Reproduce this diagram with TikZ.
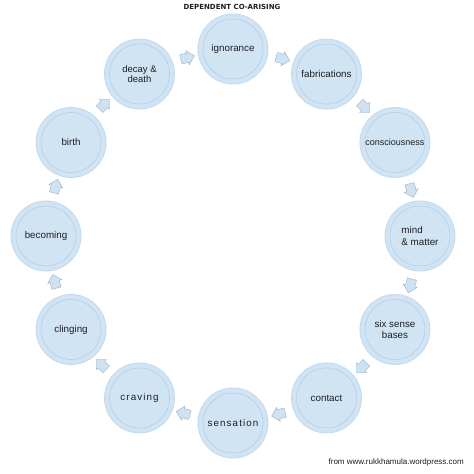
\documentclass[tikz,border=0pt]{standalone}
\usepackage{fontspec}
\setmainfont{Liberation Sans}
\newfontfamily\titlefont{DejaVu Sans}
\usetikzlibrary{shapes.arrows,calc}
\definecolor{cfill}{RGB}{209,228,244}
\definecolor{cborder}{RGB}{194,217,237}
\definecolor{cinner}{RGB}{180,206,230}
\definecolor{afill}{RGB}{207,226,242}
\definecolor{aborder}{RGB}{155,178,202}
\definecolor{ctext}{RGB}{30,30,35}
\tikzset{
  stage/.style={circle, minimum size=70pt, inner sep=0pt, fill=cfill, draw=cborder, line width=0.8pt,
    text=ctext, font=\fontsize{9.8}{11.5}\selectfont, align=center,
    path picture={\draw[cinner, line width=0.6pt] (path picture bounding box.center) circle (30pt);}},
  flow/.style={single arrow, minimum height=13pt, inner sep=4.5pt, single arrow head extend=2.5pt,
    fill=afill, draw=aborder, line width=0.4pt},
  spaced/.style={font=\fontsize{9.8}{11.5}\selectfont\addfontfeature{LetterSpace=11}}
}
\begin{document}
\begin{tikzpicture}[x=1pt,y=1pt]
\useasboundingbox[fill=white] (0,0) rectangle (474,474);
\coordinate (c) at (233,238);
\node[stage] (n1) at ($(c)+(90:187)$) {ignorance};
\node[stage] (n2) at ($(c)+(60:187)$) {fabrications};
\node[stage, font=\fontsize{9}{11}\selectfont] (n3) at ($(c)+(30:187)$) {consciousness};
\node[stage, align=left] (n4) at ($(c)+(0:187)$) {mind\\\& matter};
\node[stage] (n5) at ($(c)+(-30:187)$) {six sense\\bases};
\node[stage] (n6) at ($(c)+(-60:187)$) {contact};
\node[stage, spaced] (n7) at ($(c)+(-90:187)$) {sensation};
\node[stage, spaced] (n8) at ($(c)+(-120:187)$) {craving};
\node[stage] (n9) at ($(c)+(-150:187)$) {clinging};
\node[stage] (n10) at ($(c)+(180:187)$) {becoming};
\node[stage] (n11) at ($(c)+(150:187)$) {birth};
\node[stage, font=\fontsize{9.5}{10.5}\selectfont] (n12) at ($(c)+(120:187)$) {decay \&\\death};
\foreach \i in {0,...,11}{
  \pgfmathsetmacro{\ang}{75-30*\i}
  \pgfmathsetmacro{\dir}{\ang-90}
  \node[flow, rotate=\dir] (a\i) at ($(c)+(\ang:184)$) {};
}
\node[font=\titlefont\bfseries\fontsize{7}{8}\selectfont, text=ctext] (title) at (232,467) {DEPENDENT CO-ARISING};
\node[font=\fontsize{8}{9}\selectfont, text=ctext, anchor=east, inner sep=0pt] (src) at (464,11.5) {from www.rukkhamula.wordpress.com};
\end{tikzpicture}
\end{document}
